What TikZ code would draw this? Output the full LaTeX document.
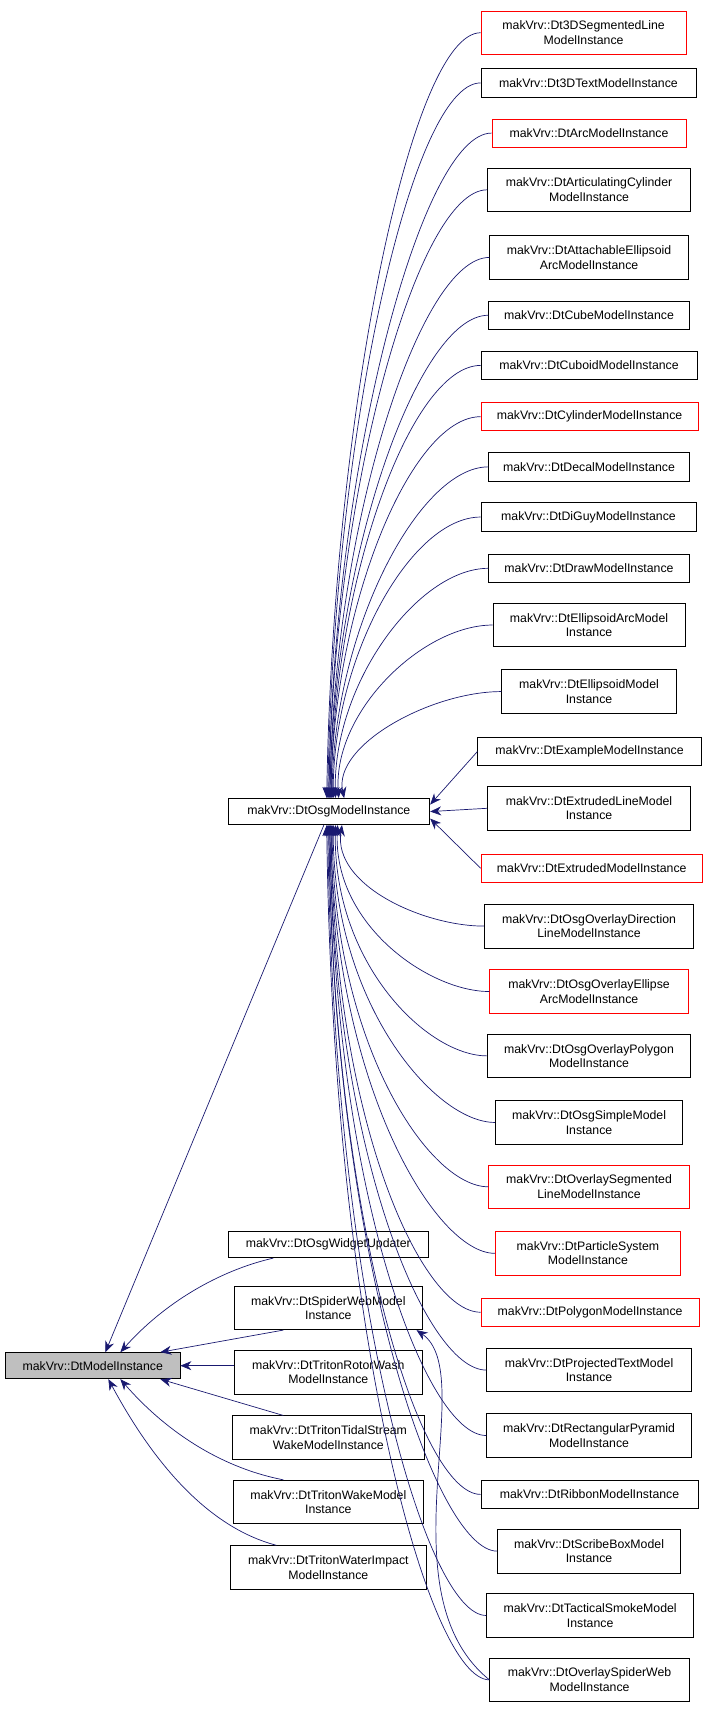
\documentclass[tikz,border=0pt]{standalone}
\usepackage{fontspec}
\setmainfont{Liberation Sans}
\usetikzlibrary{arrows.meta,calc}
\definecolor{edgec}{HTML}{191970}
\definecolor{grayf}{HTML}{BFBFBF}
\begin{document}
\begin{tikzpicture}[x=1.0907pt,y=-1.0907pt,
  box/.style={draw=black,line width=0.8pt,inner sep=0pt,align=center,font=\fontsize{12.3}{14.5}\selectfont},
  redbox/.style={box,draw=red},
  e/.style={draw=edgec,line width=0.7pt,{Stealth[length=11pt,width=9pt]}-}]
\useasboundingbox (0,0) rectangle (650,1569.5);
\newcommand\bx[7]{\node[#7,minimum width=#4*1.0907pt,minimum height=#5*1.0907pt] (#1) at (#2,#3) {#6};}
\bx{c1}{535}{30}{188}{40}{makVrv::Dt3DSegmentedLine\\ModelInstance}{redbox}
\bx{c2}{539.5}{76}{197}{26}{makVrv::Dt3DTextModelInstance}{box}
\bx{c3}{540}{122}{178}{26}{makVrv::DtArcModelInstance}{redbox}
\bx{c4}{540}{174}{186}{40}{makVrv::DtArticulatingCylinder\\ModelInstance}{box}
\bx{c5}{540}{236}{182}{40}{makVrv::DtAttachableEllipsoid\\ArcModelInstance}{box}
\bx{c6}{540}{289}{184}{26}{makVrv::DtCubeModelInstance}{box}
\bx{c7}{540}{335}{198}{26}{makVrv::DtCuboidModelInstance}{box}
\bx{c8}{540.5}{382}{199}{26}{makVrv::DtCylinderModelInstance}{redbox}
\bx{c9}{540}{428}{184}{26}{makVrv::DtDecalModelInstance}{box}
\bx{c10}{539.5}{474}{197}{26}{makVrv::DtDiGuyModelInstance}{box}
\bx{c11}{540}{521}{184}{26}{makVrv::DtDrawModelInstance}{box}
\bx{c12}{540}{573}{176}{40}{makVrv::DtEllipsoidArcModel\\Instance}{box}
\bx{c13}{540}{634}{160}{40}{makVrv::DtEllipsoidModel\\Instance}{box}
\bx{c14}{540.5}{689}{205}{26}{makVrv::DtExampleModelInstance}{box}
\bx{c15}{540}{741}{186}{40}{makVrv::DtExtrudedLineModel\\Instance}{box}
\bx{c16}{542.5}{796}{203}{26}{makVrv::DtExtrudedModelInstance}{redbox}
\bx{c17}{540}{849}{192}{40}{makVrv::DtOsgOverlayDirection\\LineModelInstance}{box}
\bx{c18}{540}{909}{182}{40}{makVrv::DtOsgOverlayEllipse\\ArcModelInstance}{redbox}
\bx{c19}{540}{968}{186}{40}{makVrv::DtOsgOverlayPolygon\\ModelInstance}{box}
\bx{c20}{540}{1029}{172}{40}{makVrv::DtOsgSimpleModel\\Instance}{box}
\bx{c21}{540}{1088}{184}{40}{makVrv::DtOverlaySegmented\\LineModelInstance}{redbox}
\bx{c22}{539}{1149}{170}{40}{makVrv::DtParticleSystem\\ModelInstance}{redbox}
\bx{c23}{541}{1203}{200}{26}{makVrv::DtPolygonModelInstance}{redbox}
\bx{c24}{540}{1256}{188}{40}{makVrv::DtProjectedTextModel\\Instance}{box}
\bx{c25}{540}{1316}{188}{40}{makVrv::DtRectangularPyramid\\ModelInstance}{box}
\bx{c26}{540.5}{1370}{199}{26}{makVrv::DtRibbonModelInstance}{box}
\bx{c27}{540}{1422}{168}{40}{makVrv::DtScribeBoxModel\\Instance}{box}
\bx{c28}{541}{1481}{190}{40}{makVrv::DtTacticalSmokeModel\\Instance}{box}
\bx{c29}{540.5}{1540}{183}{40}{makVrv::DtOverlaySpiderWeb\\ModelInstance}{box}
\bx{osg}{301.5}{744}{185}{24}{makVrv::DtOsgModelInstance}{box}
\bx{widget}{301}{1141}{184}{24}{makVrv::DtOsgWidgetUpdater}{box}
\bx{spider}{301}{1199}{172}{40}{makVrv::DtSpiderWebModel\\Instance}{box}
\bx{rotor}{301}{1258}{172}{40}{makVrv::DtTritonRotorWash\\ModelInstance}{box}
\bx{tidal}{301}{1318}{176}{40}{makVrv::DtTritonTidalStream\\WakeModelInstance}{box}
\bx{wake}{301}{1377}{174}{40}{makVrv::DtTritonWakeModel\\Instance}{box}
\bx{impact}{301}{1437}{180}{40}{makVrv::DtTritonWaterImpact\\ModelInstance}{box}
\bx{model}{85}{1252}{160}{24}{makVrv::DtModelInstance}{box,fill=grayf}
% upper children
\foreach \c/\o in {c1/-2,c2/-1,c3/0,c4/0,c5/1,c6/1,c7/2,c8/2,c9/3,c10/4,c11/6,c12/9,c13/14}{
  \path (\c.west) coordinate (cw) (osg.north) coordinate (on);
  \path[e] ([xshift=\o*1.0907pt]osg.north) .. controls ([xshift=4pt]$(on)!0.5!(on|-cw)$) and ([xshift=-70pt]cw) .. (cw);
}
\draw[e] ([yshift=7pt]osg.east) -- (c14.west);
\draw[e] (osg.east) -- (c15.west);
\draw[e] ([yshift=-7pt]osg.east) -- (c16.west);
% lower children
\foreach \c/\o in {c17/12,c18/8,c19/6,c20/4,c21/3,c22/2,c23/2,c24/1,c25/1,c26/0,c27/0,c28/-1,c29/-2}{
  \path (\c.west) coordinate (cw) (osg.south) coordinate (os);
  \path[e] ([xshift=\o*1.0907pt]osg.south) .. controls ([xshift=4pt]$(os)!0.6!(os|-cw)$) and ([xshift=-60pt]cw) .. (cw);
}
\draw[e] ([xshift=-6pt]spider.south east) .. controls (440,1260) and (350,1460) .. (c29.west);
% to DtModelInstance
\draw[e] ([xshift=-75pt]model.north east) -- ([xshift=-5pt]osg.south);
\draw[e] ([xshift=-60pt]model.north east) .. controls (150,1195) and (200,1165) .. ([xshift=-55pt]widget.south);
\draw[e] ([xshift=-20pt]model.north east) -- ([xshift=-45pt]spider.south);
\draw[e] (model.east) -- (model.east -| rotor.west);
\draw[e] ([xshift=-20pt]model.south east) -- ([xshift=-45pt]tidal.north);
\draw[e] ([xshift=-60pt]model.south east) .. controls (150,1310) and (200,1345) .. ([xshift=-45pt]wake.north);
\draw[e] ([xshift=-72pt]model.south east) .. controls (140,1340) and (190,1400) .. ([xshift=-52pt]impact.north);
\end{tikzpicture}
\end{document}
